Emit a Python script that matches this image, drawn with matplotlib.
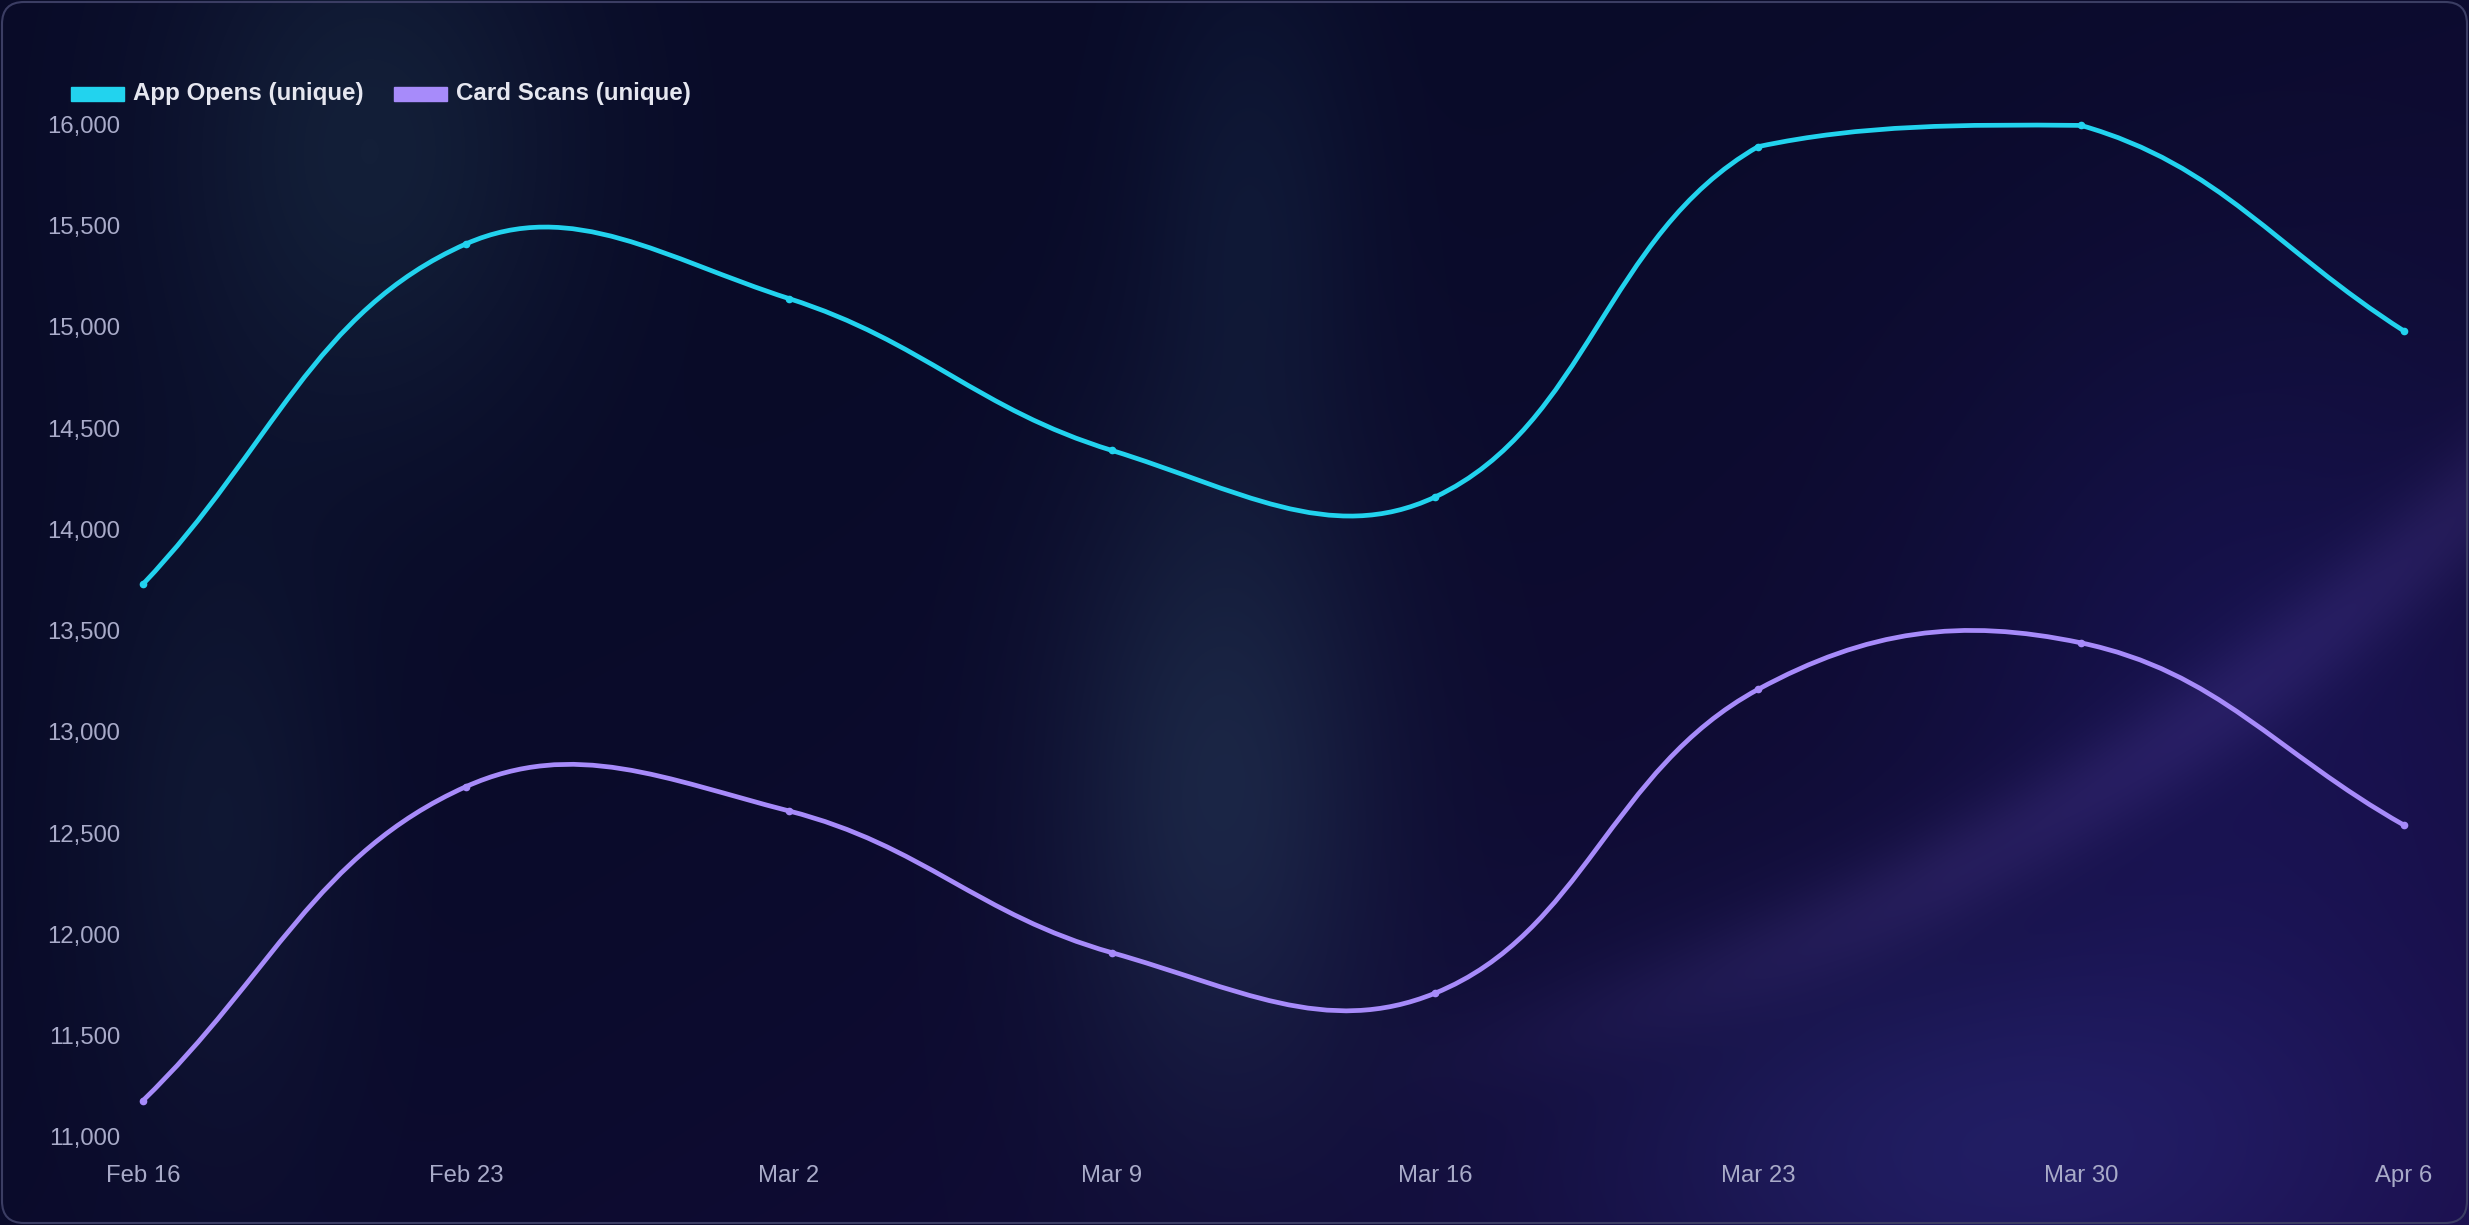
import numpy as np
import matplotlib
matplotlib.use("Agg")
import matplotlib.pyplot as plt
from matplotlib.path import Path
from matplotlib.patches import PathPatch, Rectangle, FancyBboxPatch

# Weekly unique counts
weeks = ["Feb 16", "Feb 23", "Mar 2", "Mar 9", "Mar 16", "Mar 23", "Mar 30", "Apr 6"]
app_opens = [13730, 15410, 15140, 14390, 14160, 15890, 15995, 14980]
card_scans = [11180, 12730, 12610, 11910, 11710, 13210, 13440, 12540]

CYAN = "#22d3ee"
PURPLE = "#a78bfa"
TICK_COLOR = "#a9abc9"
LEGEND_COLOR = "#e6e7f0"

W, H = 2469, 1225
Y_MIN, Y_MAX = 11000, 16000
TENSION = 0.4

plt.rcParams['font.family'] = ['Liberation Sans', 'DejaVu Sans']

fig = plt.figure(figsize=(W / 100, H / 100), dpi=100)


def make_background():
    yy, xx = np.mgrid[0:H, 0:W].astype(float)
    u = xx / W
    v = yy / H
    base_tl = np.array([9, 11, 40])
    base_br = np.array([34, 14, 88])
    t = np.clip(0.55 * u + 0.45 * v - 0.25, 0, 1) ** 1.6
    img = base_tl[None, None, :] * (1 - t[..., None]) + base_br[None, None, :] * t[..., None]

    def blob(cx, cy, sx, sy, color):
        g = np.exp(-(((xx - cx) / sx) ** 2 + ((yy - cy) / sy) ** 2))
        return g[..., None] * np.array(color)[None, None, :]

    # muted teal glows
    img += blob(370, 150, 200, 280, [10, 20, 16])
    img += blob(1220, 780, 160, 330, [14, 26, 22])
    img += blob(1250, 200, 110, 260, [5, 12, 12])
    img += blob(220, 820, 130, 320, [6, 12, 10])
    # bluish glow bottom right
    img += blob(1980, 1150, 420, 220, [12, 16, 34])
    img += blob(2250, 700, 300, 400, [6, 6, 22])
    # soft lavender arc
    cx, cy, r = 923.0, -1127.0, 2247.0
    d = np.sqrt((xx - cx) ** 2 + (yy - cy) ** 2) - r
    band = np.exp(-(d / 50.0) ** 2) * np.clip((xx - 1350) / 600, 0, 1)
    img += band[..., None] * np.array([16, 12, 22])[None, None, :]
    return np.clip(img, 0, 255).astype(np.uint8)


bg_ax = fig.add_axes([0, 0, 1, 1])
bg_ax.imshow(make_background(), extent=[0, W, H, 0], aspect="auto", interpolation="bilinear")
bg_ax.set_xlim(0, W)
bg_ax.set_ylim(H, 0)
bg_ax.axis("off")
bg_ax.add_patch(FancyBboxPatch((2, 2), W - 4, H - 4,
                               boxstyle="round,pad=0,rounding_size=22",
                               fill=False, edgecolor="#3b3d63", linewidth=1.5))

# plot area in pixels
left_px, right_px = 143, 2404
top_px, bottom_px = 124.4, 1137
ax = fig.add_axes([left_px / W, 1 - bottom_px / H,
                   (right_px - left_px) / W, (bottom_px - top_px) / H])
ax.patch.set_alpha(0)
n = len(weeks)
x = np.arange(n)
ax.set_xlim(0, n - 1)
ax.set_ylim(Y_MIN, Y_MAX)

ax_w = right_px - left_px
ax_h = bottom_px - top_px


def spline_path(values):
    # Chart.js-style bezier with tension, control points capped to area
    px = x / (n - 1) * ax_w
    py = (np.array(values) - Y_MIN) / (Y_MAX - Y_MIN) * ax_h
    pts = np.column_stack([px, py])
    prev_cp, next_cp = [], []
    for i in range(n):
        p = pts[i]
        a = pts[i - 1] if i > 0 else p
        b = pts[i + 1] if i < n - 1 else p
        d01 = np.hypot(*(p - a))
        d12 = np.hypot(*(b - p))
        tot = d01 + d12
        s01 = d01 / tot if tot else 0
        s12 = d12 / tot if tot else 0
        fa, fb = TENSION * s01, TENSION * s12
        cp_prev = p - fa * (b - a)
        cp_next = p + fb * (b - a)
        for cp in (cp_prev, cp_next):
            cp[0] = min(max(cp[0], 0), ax_w)
            cp[1] = min(max(cp[1], 0), ax_h)
        prev_cp.append(cp_prev)
        next_cp.append(cp_next)

    def to_data(q):
        return (q[0] / ax_w * (n - 1), q[1] / ax_h * (Y_MAX - Y_MIN) + Y_MIN)

    verts = [to_data(pts[0])]
    codes = [Path.MOVETO]
    for i in range(n - 1):
        verts += [to_data(next_cp[i]), to_data(prev_cp[i + 1]), to_data(pts[i + 1])]
        codes += [Path.CURVE4] * 3
    return Path(verts, codes)


for vals, color in [(app_opens, CYAN), (card_scans, PURPLE)]:
    ax.add_patch(PathPatch(spline_path(vals), facecolor="none", edgecolor=color,
                           linewidth=3.4, capstyle="round", joinstyle="round",
                           clip_on=False, zorder=3))
    ax.plot(x, vals, linestyle="none", marker="o", markersize=4.5, color=color,
            clip_on=False, zorder=4)

ax.set_xticks(x)
ax.set_xticklabels(weeks)
yticks = np.arange(Y_MIN, Y_MAX + 1, 500)
ax.set_yticks(yticks)
ax.set_yticklabels([f"{v:,}" for v in yticks])
ax.tick_params(axis="both", length=0, labelsize=17.2, labelcolor=TICK_COLOR)
ax.tick_params(axis="y", pad=16.5)
ax.tick_params(axis="x", pad=20.5)
for s in ax.spines.values():
    s.set_visible(False)
ax.grid(False)

# legend drawn on the background axes (pixel coords)
legend_items = [("App Opens (unique)", CYAN, 71), ("Card Scans (unique)", PURPLE, 394)]
for label, color, lx in legend_items:
    bg_ax.add_patch(Rectangle((lx, 86.5), 53, 14, facecolor=color, edgecolor=color, linewidth=1))
    bg_ax.text(lx + 62, 93.5, label, color=LEGEND_COLOR, fontsize=17.4,
               fontweight="bold", va="center", ha="left")

fig.savefig("out.png", dpi=100)
